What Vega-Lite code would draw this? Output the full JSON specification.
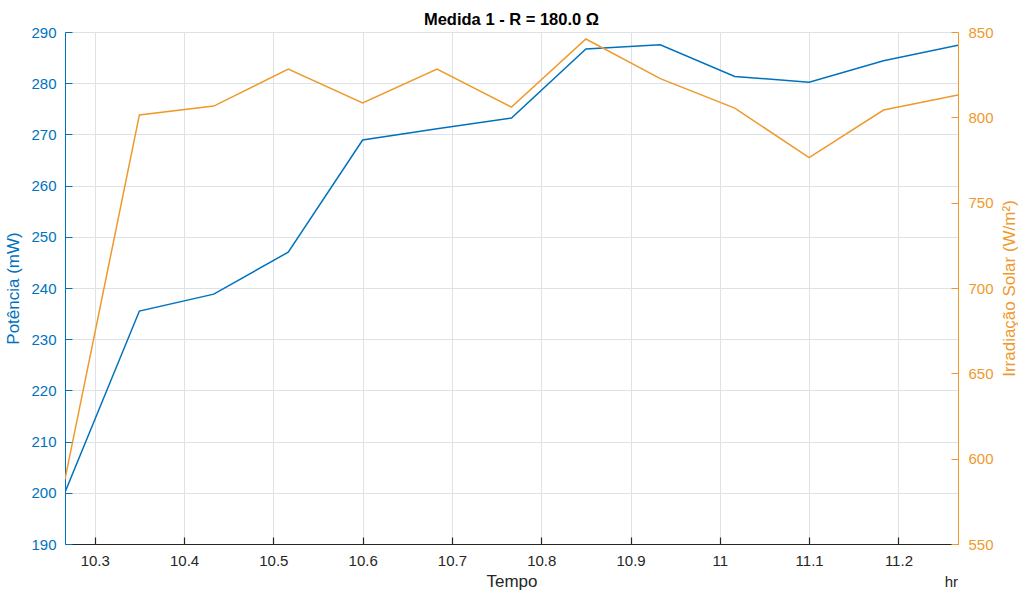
{
  "$schema": "https://vega.github.io/schema/vega-lite/v6.json",
  "width": 893,
  "height": 512,
  "autosize": "none",
  "padding": {"left": 65, "top": 32, "right": 60, "bottom": 50},
  "background": "white",
  "title": {"text": "Medida 1 - R = 180.0 Ω", "font": "Liberation Sans", "fontSize": 16.5, "fontWeight": "bold", "color": "#000000", "offset": -3, "anchor": "middle"},
  "config": {
    "view": {"stroke": null},
    "axis": {"labelFont": "Liberation Sans", "titleFont": "Liberation Sans", "labelFontSize": 15, "titleFontSize": 17, "titleFontWeight": "normal", "gridColor": "#dde2e8", "gridWidth": 1, "ticks": true, "tickWidth": 1}
  },
  "data": {
    "values": [
      {"t": 10.2667, "p": 200.1, "irr": 588.0},
      {"t": 10.35, "p": 235.5, "irr": 801.4},
      {"t": 10.4333, "p": 238.8, "irr": 806.6},
      {"t": 10.5167, "p": 247.0, "irr": 828.3},
      {"t": 10.6, "p": 268.9, "irr": 808.4},
      {"t": 10.6833, "p": 271.1, "irr": 828.3},
      {"t": 10.7667, "p": 273.2, "irr": 806.0},
      {"t": 10.85, "p": 286.7, "irr": 845.9},
      {"t": 10.9333, "p": 287.5, "irr": 822.7},
      {"t": 11.0167, "p": 281.3, "irr": 805.4},
      {"t": 11.1, "p": 280.2, "irr": 776.4},
      {"t": 11.1833, "p": 284.4, "irr": 804.3},
      {"t": 11.2667, "p": 287.4, "irr": 813.1}
    ]
  },
  "layer": [
    {
      "mark": {"type": "line", "color": "#0072BD", "strokeWidth": 1.5, "clip": true},
      "encoding": {
        "x": {"field": "t", "type": "quantitative", "scale": {"domain": [10.2667, 11.2667], "nice": false, "zero": false},
          "axis": {"title": "Tempo", "values": [10.3, 10.4, 10.5, 10.6, 10.7, 10.8, 10.9, 11, 11.1, 11.2], "labelExpr": "format(datum.value, '.1~f')", "grid": true, "domainColor": "#262626", "tickColor": "#262626", "tickWidth": 1.2, "tickSize": -7, "labelPadding": 16, "labelColor": "#262626", "titleColor": "#262626", "titlePadding": 5, "labelFlush": false}},
        "y": {"field": "p", "type": "quantitative", "scale": {"domain": [190, 290], "nice": false, "zero": false},
          "axis": {"orient": "left", "title": "Potência (mW)", "values": [190, 200, 210, 220, 230, 240, 250, 260, 270, 280, 290], "grid": true, "domainColor": "#0072BD", "tickColor": "#0072BD", "labelColor": "#0072BD", "titleColor": "#0072BD", "tickSize": -7, "labelPadding": 16, "titlePadding": 8}}
      }
    },
    {
      "mark": {"type": "line", "color": "#EE9A2B", "strokeWidth": 1.5, "clip": true},
      "encoding": {
        "x": {"field": "t", "type": "quantitative", "scale": {"domain": [10.2667, 11.2667], "nice": false, "zero": false}},
        "y": {"field": "irr", "type": "quantitative", "scale": {"domain": [550, 850], "nice": false, "zero": false},
          "axis": {"orient": "right", "title": "Irradiação Solar (W/m²)", "titleAngle": 270, "titleBaseline": "top", "values": [550, 600, 650, 700, 750, 800, 850], "grid": false, "domainColor": "#EE9A2B", "tickColor": "#EE9A2B", "labelColor": "#EE9A2B", "titleColor": "#EE9A2B", "tickSize": -7, "labelPadding": 17, "titlePadding": 8}}
      }
    },
    {
      "data": {"values": [{"lbl": "hr"}]},
      "mark": {"type": "text", "align": "right", "baseline": "middle", "font": "Liberation Sans", "fontSize": 15, "color": "#262626"},
      "encoding": {
        "text": {"field": "lbl"},
        "x": {"datum": 11.2667, "type": "quantitative", "scale": {"domain": [10.2667, 11.2667], "nice": false, "zero": false}},
        "y": {"datum": 182.6, "type": "quantitative", "scale": {"domain": [190, 290], "nice": false, "zero": false}, "axis": null}
      }
    }
  ],
  "resolve": {"scale": {"y": "independent"}}
}
